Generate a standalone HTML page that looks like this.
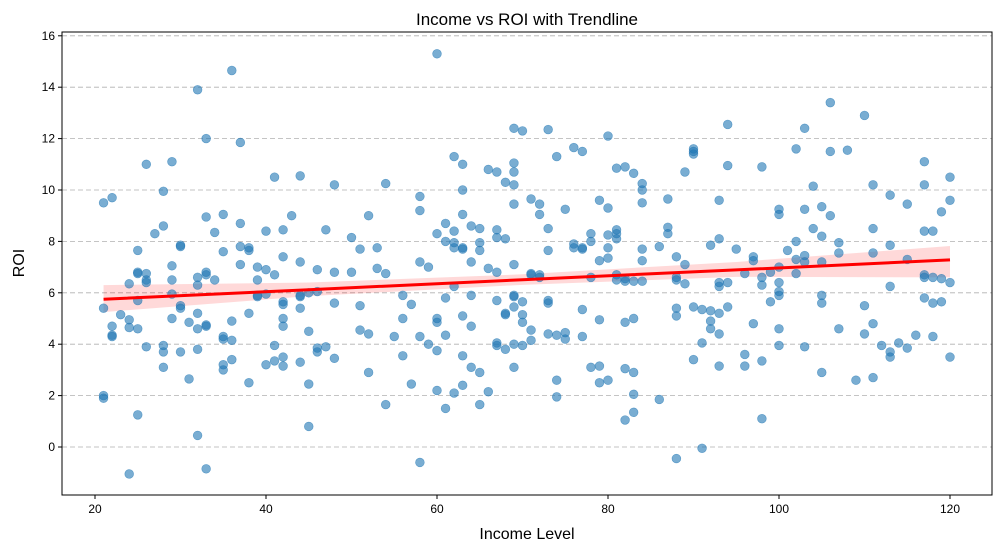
<!DOCTYPE html>
<html><head><meta charset="utf-8"><style>
body{margin:0;background:#fff;}
svg{display:block;font-family:"Liberation Sans","DejaVu Sans",sans-serif;}
</style></head><body>
<svg id="chart" width="1001" height="552" viewBox="0 0 1001 552" xmlns="http://www.w3.org/2000/svg">
<rect x="0" y="0" width="1001" height="552" fill="#fff"/>
<text x="527" y="25" font-size="17" text-anchor="middle" fill="#000">Income vs ROI with Trendline</text>
<g id="grid"></g>
<g id="band"></g>
<g id="points"></g>
<g id="trend"></g>
<rect x="62" y="32" width="930" height="463" fill="none" stroke="#000" stroke-width="1"/>
<g id="xaxis"></g>
<g id="yaxis"></g>
<text x="527" y="539" font-size="16" text-anchor="middle">Income Level</text>
<text x="24" y="263" font-size="16" text-anchor="middle" transform="rotate(-90 24 263)">ROI</text>
</svg>
<script>
const incomeLevels=[21,22,23,24,25,26,27,28,29,30,31,32,33,34,35,36,37,38,39,40,41,42,43,44,45,46,47,48,50,51,52,53,54,55,56,57,58,59,60,61,62,63,64,65,66,67,68,69,70,71,72,73,74,75,76,77,78,79,80,81,82,83,84,86,87,88,89,90,91,92,93,94,95,96,97,98,99,100,101,102,103,104,105,106,107,108,109,110,111,112,113,114,115,116,117,118,119,120];
const roiGroups=[
[9.5,5.4,2.0,1.9],[9.7,4.7,4.35,4.3],[5.15],[6.35,4.95,4.65,-1.05],[7.65,6.8,6.75,5.7,4.6,1.25],
[11.0,6.75,6.5,6.4,3.9],[8.3],[9.95,8.6,3.95,3.7,3.1],[11.1,7.05,6.5,5.95,5.0],[7.85,7.8,5.5,5.4,3.7],
[4.85,2.65],[13.9,6.6,6.3,5.2,4.6,3.8,0.45],[12.0,8.95,6.8,6.7,4.75,4.7,-0.85],[8.35,6.5],[9.05,7.6,4.3,4.2,3.2,3.0],
[14.65,4.9,4.15,3.4],[11.85,8.7,7.8,7.1],[7.75,7.65,5.2,2.5],[7.0,6.5,5.9,5.85],[8.4,6.9,5.95,3.2],
[10.5,6.7,3.95,3.35],[8.45,7.4,5.65,5.55,5.0,4.7,3.5,3.15],[9.0],[10.55,7.2,5.9,5.85,5.4,3.3],[6.0,4.5,2.45,0.8],
[6.9,6.05,3.85,3.7],[8.45,3.9],[10.2,6.8,5.6,3.45],[8.15,6.8],[7.7,5.5,4.55],
[9.0,4.4,2.9],[7.75,6.95],[10.25,6.75,1.65],[4.3],[5.9,5.0,3.55],
[5.55,2.45],[9.75,9.2,7.2,4.3,-0.6],[7.0,4.0],[15.3,8.3,5.0,4.85,3.75,2.2],[8.7,8.0,5.8,4.35,1.5],
[11.3,8.4,7.95,7.75,6.25,2.1],[11.0,10.0,9.05,7.75,7.7,5.1,3.55,2.4],[8.6,7.2,5.9,4.7,3.1],[8.5,7.95,7.65,2.9,1.65],[10.8,6.95,2.15],
[10.7,8.45,8.15,6.8,5.7,4.05,3.95],[10.3,8.1,5.2,5.15,3.8],[12.4,11.05,10.7,10.2,9.45,7.1,5.9,5.85,5.45,4.0,3.1],[12.3,5.65,5.15,4.85,3.95],[9.65,6.75,6.7,4.55,4.15],
[9.45,9.05,6.7,6.6],[12.35,8.5,7.65,5.7,5.6,4.4],[11.3,4.35,2.6,1.95],[9.25,4.45,4.2],[11.65,7.9,7.75],
[11.5,7.75,7.7,5.35,4.3],[8.3,8.0,6.6,3.1],[9.6,7.25,4.95,3.15,2.5],[12.1,9.3,8.25,7.75,7.35,2.6],[10.85,8.45,8.3,8.1,6.7,6.5],
[10.9,6.55,6.45,4.85,3.05,1.05],[10.65,6.45,5.0,2.9,2.05,1.35],[10.25,10.0,9.5,7.7,7.25,6.45],[7.8,1.85],[9.65,8.55,8.3],
[7.4,6.6,6.5,5.4,5.1,-0.45],[10.7,7.1,6.35],[11.6,11.5,11.4,5.45,3.4],[5.35,4.05,-0.05],[7.85,5.3,4.9,4.6],
[9.6,8.1,6.4,6.25,5.2,4.4,3.15],[12.55,10.95,6.4,5.45],[7.7],[6.75,3.6,3.15],[7.4,7.25,4.8],
[10.9,6.6,6.3,3.35,1.1],[6.8,5.65],[9.25,9.05,7.0,6.4,6.05,5.9,4.6,3.95],[7.65],[11.6,8.0,7.3,6.75],
[12.4,9.25,7.45,7.2,3.9],[10.15,8.5],[9.35,8.2,7.2,5.9,5.6,2.9],[13.4,11.5,9.0],[7.95,7.55,4.6],
[11.55],[2.6],[12.9,5.5,4.4],[10.2,8.5,7.55,4.8,2.7],[3.95],
[9.8,7.85,6.25,3.7,3.5],[4.05],[9.45,7.3,3.85],[4.35],[11.1,10.2,8.4,6.7,6.6,5.8],
[8.4,6.6,5.6,4.3],[9.15,6.55,5.65],[10.5,9.6,6.4,3.5]
];
const trendX=[21,45,70,95,120];
const trendLine=[5.75,6.12,6.51,6.89,7.28];
const trendLower=[5.25,5.87,6.31,6.62,6.6];
const trendUpper=[6.3,6.4,6.72,7.2,7.82];
const xTicks=[20,40,60,80,100,120];
const yTicks=[0,2,4,6,8,10,12,14,16];

const NS="http://www.w3.org/2000/svg";
const sx=v=>95+(v-20)*8.55;
const sy=v=>447-v*25.7;
function mk(tag,attrs,parent){const e=document.createElementNS(NS,tag);for(const k in attrs)e.setAttribute(k,attrs[k]);parent.appendChild(e);return e;}
const G=id=>document.getElementById(id);

yTicks.forEach(t=>{
  const l=mk('line',{x1:62,x2:992,y1:sy(t),y2:sy(t),stroke:'#b0b0b0','stroke-dasharray':'5,3','stroke-width':0.8},G('grid'));
  
  
  const tk=mk('line',{x1:58,x2:62,y1:sy(t),y2:sy(t),stroke:'#000'},G('yaxis'));
  
  
  const tx=mk('text',{x:55,y:sy(t)+4,'font-size':12,'text-anchor':'end'},G('yaxis'));
  tx.textContent=t;
  
  
});
xTicks.forEach(t=>{
  const tk=mk('line',{x1:sx(t),x2:sx(t),y1:495,y2:499,stroke:'#000'},G('xaxis'));
  
  
  const tx=mk('text',{x:sx(t),y:513,'font-size':12,'text-anchor':'middle'},G('xaxis'));
  tx.textContent=t;
  
  
});

incomeLevels.forEach((x,i)=>{
  roiGroups[i].forEach(r=>{
    const c=mk('circle',{cx:sx(x),cy:sy(r),r:4.4,fill:'#1f77b4','fill-opacity':0.6,stroke:'#1f77b4','stroke-opacity':0.6,'stroke-width':0.6},G('points'));
    
    
  });
});

let up=trendX.map((x,i)=>sx(x)+','+sy(trendUpper[i]));
let lo=trendX.map((x,i)=>sx(x)+','+sy(trendLower[i])).reverse();
const band=mk('polygon',{points:up.concat(lo).join(' '),fill:'#ff0000','fill-opacity':0.15,stroke:'none'},G('band'));


const tl=mk('polyline',{points:trendX.map((x,i)=>sx(x)+','+sy(trendLine[i])).join(' '),fill:'none',stroke:'#ff0000','stroke-width':3},G('trend'));


</script>
</body></html>
